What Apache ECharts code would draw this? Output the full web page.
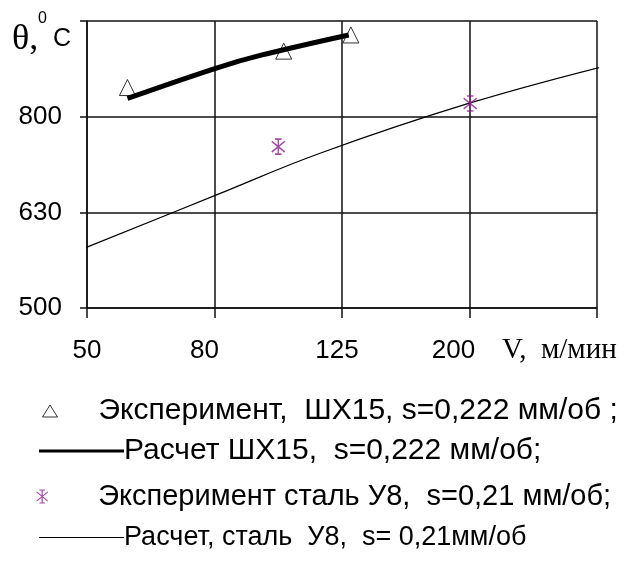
<!DOCTYPE html>
<html><head><meta charset="utf-8">
<script src="https://cdn.jsdelivr.net/npm/echarts@6/dist/echarts.min.js"></script>
<style>html,body{margin:0;padding:0;background:#fff}#c{width:630px;height:561px}</style>
</head><body><div id="c"></div>
<script>
// axis tick labels (log-spaced preferred numbers)
const xTickLabels = ['50', '80', '125', '200', ''];
const yTickLabels = ['500', '630', '800', ''];
// ШХ15, s=0,222 мм/об
const shx15ExpV = [58, 102, 130];
const shx15ExpT = [852, 930, 967];
const shx15CalcV = [58, 80, 94, 129];
const shx15CalcT = [830, 893, 921, 967];
// сталь У8, s=0,21 мм/об
const u8ExpV = [50, 100, 200];
const u8ExpT = [600, 739, 820];
const u8CalcV = [50, 80, 116, 200, 329];
const u8CalcT = [580, 658, 727, 821, 899];
const seriesNames = [
  'Эксперимент,  ШХ15, s=0,222 мм/об ;',
  'Расчет ШХ15,  s=0,222 мм/об;',
  'Эксперимент сталь У8,  s=0,21 мм/об;',
  'Расчет, сталь  У8,  s= 0,21мм/об'
];

const xLabelShift = [0, 20, 10, 32];
const toLog = (vs, ts) => vs.map((v, i) => [Math.log10(v), Math.log10(ts[i])]);
const purple = '#8b1f8b';
const asterisk = 'path://M6,0L6,14M0,2L12,12M0,12L12,2M3,0L9,0M3,14L9,14';
const gridLine = { color: '#111', width: 1.5 };
const sans = 'Liberation Sans, Arial, sans-serif';
const serif = 'Liberation Serif, Times New Roman, serif';

const chart = echarts.init(document.getElementById('c'), null, { renderer: 'canvas' });
const rich = {};
xLabelShift.forEach((s, i) => { rich['s' + i] = { fontFamily: sans, fontSize: 26, color: '#000', padding: [0, s, 0, 0] }; });

const lt = (size, pad) => ({ fontFamily: sans, fontSize: size, color: '#000', padding: [0, 0, 0, pad] });
chart.setOption({
  animation: false,
  backgroundColor: '#fff',
  grid: { left: 87, right: 33, top: 21, bottom: 253, containLabel: false },
  xAxis: {
    type: 'value', min: 1.7, max: 2.5, interval: 0.2,
    axisLine: { show: true, onZero: false, lineStyle: gridLine },
    axisTick: { show: true, length: 10, lineStyle: gridLine },
    splitLine: { show: true, lineStyle: gridLine },
    axisLabel: {
      margin: 30,
      formatter: (v) => { const i = Math.round((v - 1.7) / 0.2); return xTickLabels[i] ? '{s' + i + '|' + xTickLabels[i] + '}' : ''; },
      rich: rich
    }
  },
  yAxis: {
    type: 'value', min: 2.7, max: 3.0, interval: 0.1,
    axisLine: { show: true, onZero: false, lineStyle: gridLine },
    axisTick: { show: true, length: 7, lineStyle: gridLine },
    splitLine: { show: true, lineStyle: gridLine },
    axisLabel: {
      margin: 25, fontFamily: sans, fontSize: 26, color: '#000',
      formatter: (v) => { const i = Math.round((v - 2.7) / 0.1); return yTickLabels[i] || ''; }
    }
  },
  legend: [
    { data: [{ name: seriesNames[0], icon: 'triangle', itemStyle: { color: '#fff', borderColor: '#000', borderWidth: 1 } }],
      left: 42, top: 396, padding: 0, itemWidth: 15, itemHeight: 12, selectedMode: false,
      textStyle: lt(30, 36) },
    { data: [{ name: seriesNames[1], icon: 'rect', itemStyle: { color: '#000', borderWidth: 0 } }],
      left: 39, top: 436, padding: 0, itemWidth: 85, itemHeight: 3, selectedMode: false,
      textStyle: lt(30, -5) },
    { data: [{ name: seriesNames[2], icon: asterisk, itemStyle: { color: 'rgba(0,0,0,0)', borderColor: purple, borderWidth: 1.2 } }],
      left: 36, top: 482, padding: 0, itemWidth: 12, itemHeight: 13, selectedMode: false,
      textStyle: lt(29, 45) },
    { data: [{ name: seriesNames[3], icon: 'rect', itemStyle: { color: '#000', borderWidth: 0 } }],
      left: 39, top: 524, padding: 0, itemWidth: 85, itemHeight: 1, selectedMode: false,
      textStyle: lt(27, -5) }
  ],
  graphic: [
    { type: 'text', left: 12, top: 22, style: { text: 'θ,', font: '36px ' + serif, fill: '#000' } },
    { type: 'text', left: 38, top: 11, style: { text: '0', font: '16px ' + sans, fill: '#000' } },
    { type: 'text', left: 53, top: 27, style: { text: 'C', font: '25px ' + sans, fill: '#000' } },
    { type: 'text', left: 502, top: 336, style: { text: 'V,  м/мин', font: '29px ' + serif, fill: '#000' } }
  ],
  series: [
    { name: seriesNames[0], type: 'scatter', data: toLog(shx15ExpV, shx15ExpT),
      symbol: 'triangle', symbolSize: [16, 16],
      itemStyle: { color: '#fff', borderColor: '#000', borderWidth: 1 }, z: 3 },
    { name: seriesNames[1], type: 'line', data: toLog(shx15CalcV, shx15CalcT),
      smooth: 0.4, symbol: 'none', lineStyle: { color: '#000', width: 5 }, z: 4 },
    { name: seriesNames[3], type: 'line', data: toLog(u8CalcV, u8CalcT), clip: false,
      smooth: 0.4, symbol: 'none', lineStyle: { color: '#000', width: 1.2 }, z: 3 },
    { name: seriesNames[2], type: 'scatter', data: toLog(u8ExpV, u8ExpT),
      symbol: asterisk, symbolSize: [13, 15],
      itemStyle: { color: 'rgba(0,0,0,0)', borderColor: purple, borderWidth: 1.5 }, z: 5 }
  ]
});
</script></body></html>
